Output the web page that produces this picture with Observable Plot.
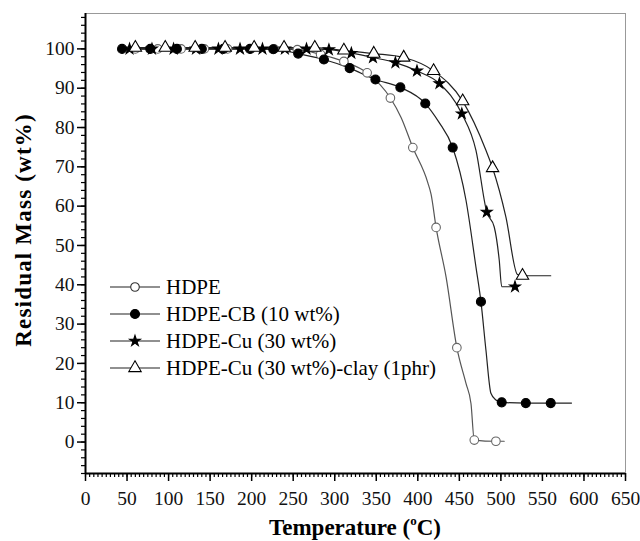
<!DOCTYPE html>
<html><head><meta charset="utf-8">
<script src="https://cdn.jsdelivr.net/npm/d3@7"></script>
<script src="https://cdn.jsdelivr.net/npm/@observablehq/plot@0.6"></script>
<style>body{margin:0;background:#fff}#chart{width:640px;height:541px}#chart svg text{font-family:"Liberation Serif","Times New Roman",serif}</style>
</head><body><div id="chart"></div>
<script>
// Series names (legend order)
const seriesNames = ["HDPE", "HDPE-CB (10 wt%)", "HDPE-Cu (30 wt%)", "HDPE-Cu (30 wt%)-clay (1phr)"];

// Marker positions (temperature °C, residual mass wt%)
const hdpeT = [60, 87, 115, 143, 171, 199, 227, 255, 283, 311, 339, 367, 394, 422, 447, 468, 494];
const hdpeM = [100, 100, 100, 100, 100, 100, 100, 99.8, 98.6, 96.8, 93.9, 87.5, 74.9, 54.6, 24, 0.5, 0.2];
const cbT = [44, 78, 110, 140, 166, 198, 226, 256, 287, 318, 349, 379, 409, 442, 476, 501, 530, 560];
const cbM = [100, 100, 100, 100, 100, 100, 99.9, 98.8, 97.3, 95.1, 92.2, 90.2, 86.1, 74.9, 35.7, 10.1, 9.9, 9.9];
const cuT = [53, 80, 106, 133, 160, 186, 213, 240, 266, 293, 320, 346, 373, 399, 426, 453, 483, 517];
const cuM = [100, 100, 100, 100, 100, 100, 100, 100, 100, 99.8, 98.9, 97.8, 96.5, 94.4, 91.2, 83.5, 58.5, 39.5];
const clayT = [60, 96, 132, 168, 203, 239, 276, 311, 347, 383, 419, 454, 490, 526];
const clayM = [100.3, 100.3, 100.3, 100.3, 100.3, 100.3, 100.3, 99.6, 98.8, 97.8, 94.4, 86.7, 69.7, 42.3];

// Extra points along each continuous curve (between markers)
const hdpeLineT = [380, 412, 416, 434, 458, 464, 504];
const hdpeLineM = [82.5, 66, 63, 42, 14.9, 9.8, 0.2];
const cbLineT = [425, 458, 470, 482, 488, 494, 585];
const cbLineM = [81.5, 61.5, 44.5, 23.4, 12.4, 10.7, 9.9];
const cuLineT = [470, 492, 498, 501];
const cuLineM = [74.2, 54.7, 46.3, 39.5];
const clayLineT = [482, 506, 520, 560];
const clayLineM = [74.2, 57.3, 42.6, 42.3];

const xMajor = d3.range(0, 651, 50);
const xMinor = d3.range(0, 651, 5);
const yMajor = d3.range(0, 101, 10);
const yMinor = d3.range(-8, 109, 2);

const toRows = (name, T, M) => T.map((t, i) => ({name, t, m: M[i]}));
const markers = [
  toRows(seriesNames[0], hdpeT, hdpeM),
  toRows(seriesNames[1], cbT, cbM),
  toRows(seriesNames[2], cuT, cuM),
  toRows(seriesNames[3], clayT, clayM)
];
const lines = [
  [...markers[0], ...toRows(seriesNames[0], hdpeLineT, hdpeLineM)],
  [...markers[1], ...toRows(seriesNames[1], cbLineT, cbLineM)],
  [...markers[2], ...toRows(seriesNames[2], cuLineT, cuLineM)],
  [...markers[3], ...toRows(seriesNames[3], clayLineT, clayLineM)]
].map(a => a.sort((p, q) => p.t - q.t));

const lineColors = ["#555", "#222", "#222", "#222"];
const sym = [
  {symbol: "circle", r: 4.3, fill: "white", stroke: "#666"},
  {symbol: "circle", r: 4.5, fill: "black", stroke: "black"},
  {symbol: "star", r: 3.4, fill: "black", stroke: "black"},
  {symbol: "triangle", r: 4.6, fill: "white", stroke: "black"}
];
const FONT = "Liberation Serif";

const chart = Plot.plot({
  width: 640, height: 541,
  marginLeft: 85, marginRight: 15, marginTop: 13, marginBottom: 68,
  x: {domain: [0, 650]},
  y: {domain: [-8, 109]},
  style: {fontFamily: FONT, fontSize: "19px", color: "black", background: "white"},
  marks: [
    Plot.ruleY([109], {stroke: "#999", strokeWidth: 1}),
    Plot.ruleX([650], {stroke: "#999", strokeWidth: 1}),
    Plot.axisX({ticks: xMinor, tickSize: 4, text: null, strokeWidth: 1.2, label: null}),
    Plot.axisX({ticks: xMajor, tickSize: 8, tickPadding: 10, strokeWidth: 1.5, label: null, fill: "#111", fontFamily: FONT, fontSize: 19.5}),
    Plot.axisY({ticks: yMinor, tickSize: 4, text: null, strokeWidth: 1.2, label: null}),
    Plot.axisY({ticks: yMajor, tickSize: 8, tickPadding: 3, strokeWidth: 1.5, label: null, fill: "#111", fontFamily: FONT, fontSize: 19.5}),
    Plot.ruleY([-8], {stroke: "black", strokeWidth: 2}),
    Plot.ruleX([0], {stroke: "black", strokeWidth: 2}),
    ...lines.map((d, i) => Plot.line(d, {x: "t", y: "m", curve: "monotone-x", stroke: lineColors[i], strokeWidth: 1.2})),
    ...markers.map((d, i) => Plot.dot(d, {x: "t", y: "m", symbol: sym[i].symbol, r: sym[i].r, fill: sym[i].fill, stroke: sym[i].stroke, strokeWidth: 1.1}))
  ]
});
document.getElementById("chart").append(chart);

// Axis titles and legend
const svg = d3.select(chart);
svg.append("text")
  .attr("transform", "translate(23,230) rotate(-90)")
  .attr("text-anchor", "middle").attr("dominant-baseline", "central")
  .attr("font-family", FONT).attr("font-weight", "bold").attr("font-size", 23)
  .attr("letter-spacing", 1.2)
  .text("Residual Mass (wt%)");
const xt = svg.append("text")
  .attr("x", 355).attr("y", 535).attr("text-anchor", "middle")
  .attr("font-family", FONT).attr("font-weight", "bold").attr("font-size", 23);
xt.append("tspan").text("Temperature (");
xt.append("tspan").attr("font-size", 13).attr("dy", -10).text("o");
xt.append("tspan").attr("dy", 10).text("C)");

const lg = svg.append("g");
seriesNames.forEach((name, i) => {
  const y = 287 + i * 27;
  lg.append("line").attr("x1", 110).attr("x2", 160).attr("y1", y).attr("y2", y)
    .attr("stroke", "#222").attr("stroke-width", 1.2);
  const s = {circle: d3.symbolCircle, star: d3.symbolStar, triangle: d3.symbolTriangle}[sym[i].symbol];
  lg.append("path").attr("d", d3.symbol(s, sym[i].r * sym[i].r * Math.PI)())
    .attr("transform", `translate(135,${y})`)
    .attr("fill", sym[i].fill).attr("stroke", i === 0 ? "#333" : sym[i].stroke).attr("stroke-width", 1.1);
  lg.append("text").attr("x", 166).attr("y", y).attr("dy", "0.35em")
    .attr("text-anchor", "start")
    .attr("font-family", FONT).attr("font-size", 21).text(name);
});
</script></body></html>
